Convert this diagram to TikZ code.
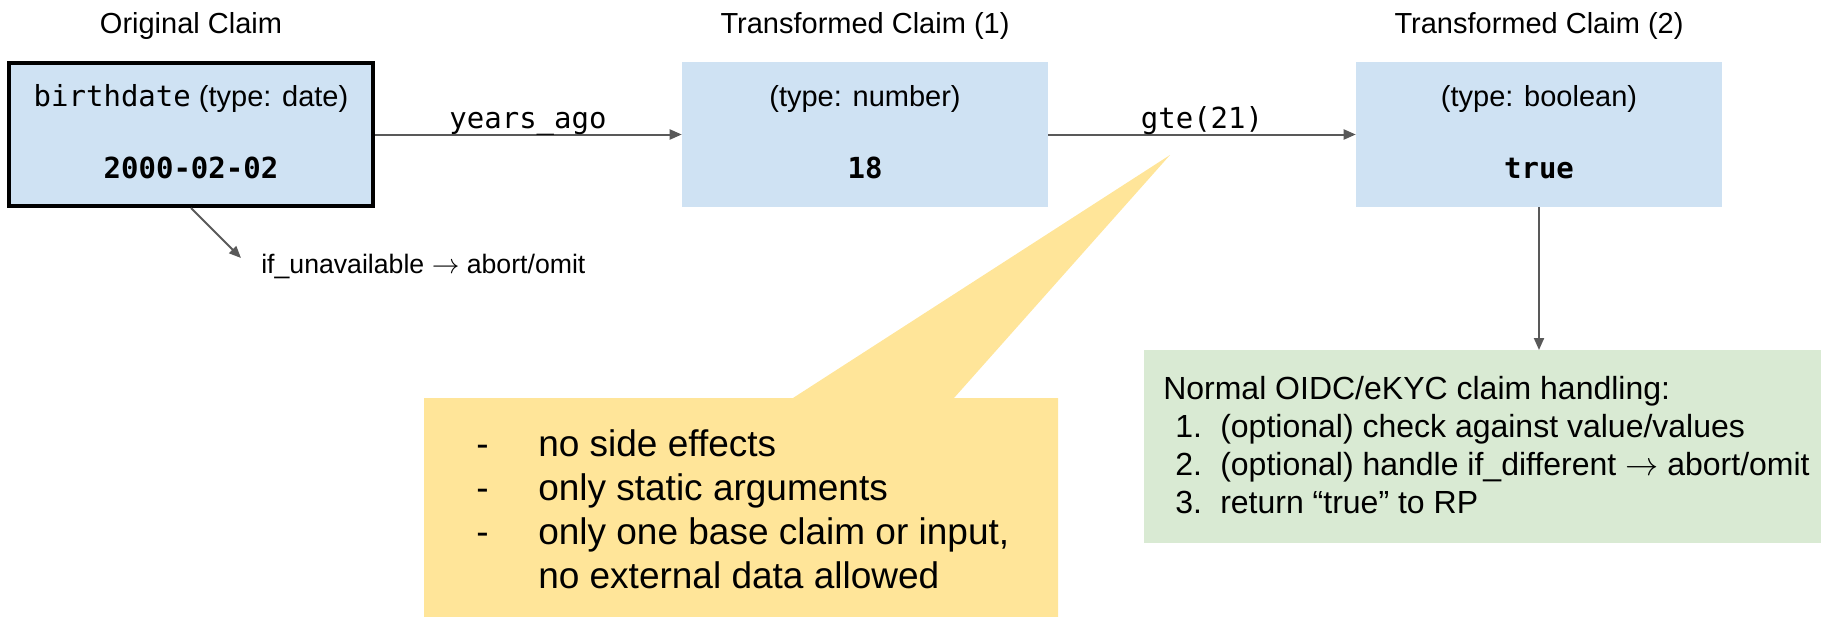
\documentclass[tikz,border=0pt]{standalone}
\usepackage{fontspec}
\setmainfont{Liberation Sans}
\newfontfamily\codefont{DejaVu Sans Mono}
\usetikzlibrary{arrows.meta}

\definecolor{claimblue}{HTML}{CFE2F3}
\definecolor{noteyellow}{HTML}{FFE599}
\definecolor{rpgreen}{HTML}{D9EAD3}
\definecolor{linkgray}{HTML}{595959}

\newcommand\capsize{\fontsize{21.75}{26}\selectfont}
\newcommand\notesize{\fontsize{20}{24}\selectfont}
\newcommand\rulesize{\fontsize{27.75}{33}\selectfont}
\newcommand\rpsize{\fontsize{24}{28.5}\selectfont}
\newcommand\thinarrow{\ensuremath{\rightarrow}}

\begin{document}
\begin{tikzpicture}[x=0.75pt, y=-0.75pt,
  claimbox/.style={fill=claimblue, inner sep=0pt, minimum width=274.5pt, minimum height=108.75pt},
  basebox/.style={claimbox, draw=black, line width=3pt, minimum width=273pt, minimum height=107.25pt},
  heading/.style={anchor=base, inner sep=0pt, font=\capsize},
  typeline/.style={anchor=base, inner sep=0pt, font=\capsize},
  valueline/.style={anchor=base, inner sep=0pt, font=\capsize\codefont\bfseries},
  fnlabel/.style={anchor=base, inner sep=0pt, font=\capsize\codefont},
  link/.style={draw=linkgray, line width=1.5pt, -{Triangle[length=9pt, width=7.5pt]}},
  ruleline/.style={anchor=base west, inner sep=0pt, font=\rulesize},
  rpline/.style={anchor=base west, inner sep=0pt, font=\rpsize}]

  % canvas
  \useasboundingbox (0,0) rectangle (1821,617);

  % column headings
  \node[heading] (h0) at (191,34) {Original Claim};
  \node[heading] (h1) at (865,34) {Transformed Claim (1)};
  \node[heading] (h2) at (1539,34) {Transformed Claim (2)};

  % claim boxes
  \node[basebox] (c0) at (191,134.5) {};
  \node[claimbox] (c1) at (865,134.5) {};
  \node[claimbox] (c2) at (1539,134.5) {};

  \node[typeline] (c0type) at (191,107) {{\codefont birthdate} (type: date)};
  \node[valueline] (c0val) at (191,178) {2000-02-02};
  \node[typeline] (c1type) at (865,107) {(type: number)};
  \node[valueline] (c1val) at (865,178) {18};
  \node[typeline] (c2type) at (1539,107) {(type: boolean)};
  \node[valueline] (c2val) at (1539,178) {true};

  % transformations between claims
  \draw[link] (c0.east) -- (c1.west);
  \node[fnlabel] (f1) at (528,128) {years\_ago};
  \draw[link] (c1.east) -- (c2.west);
  \node[fnlabel] (f2) at (1202,128) {gte(21)};

  % missing-claim handling
  \coordinate (u) at (241,258);
  \draw[link] (c0.south) -- (u);
  \node[anchor=base west, inner sep=0pt, font=\notesize] (unavail) at (261,273) {if\_unavailable \thinarrow{} abort/omit};

  % constraints callout
  \fill[noteyellow] (424,398) -- (793,398) -- (1170,155) -- (954,398) -- (1058,398)
    -- (1058,617) -- (424,617) -- cycle;
  \node[ruleline] (r1d) at (476,456) {-};
  \node[ruleline] (r1) at (538,456) {no side effects};
  \node[ruleline] (r2d) at (476,500) {-};
  \node[ruleline] (r2) at (538,500) {only static arguments};
  \node[ruleline] (r3d) at (476,544) {-};
  \node[ruleline] (r3) at (538,544) {only one base claim or input,};
  \node[ruleline] (r4) at (538,588) {no external data allowed};

  % relying-party handling
  \node[fill=rpgreen, inner sep=0pt, minimum width=507.75pt, minimum height=144.75pt,
        anchor=north west] (rp) at (1144,350) {};
  \draw[link] (c2.south) -- (c2.south |- rp.north);
  \node[rpline] (rp0) at (1163,399) {Normal OIDC/eKYC claim handling:};
  \node[rpline] (rp1n) at (1175,437) {1.};
  \node[rpline] (rp1) at (1220,437) {(optional) check against value/values};
  \node[rpline] (rp2n) at (1175,475) {2.};
  \node[rpline] (rp2) at (1220,475) {(optional) handle if\_different \thinarrow{} abort/omit};
  \node[rpline] (rp3n) at (1175,513) {3.};
  \node[rpline] (rp3) at (1220,513) {return “true” to RP};
\end{tikzpicture}
\end{document}
